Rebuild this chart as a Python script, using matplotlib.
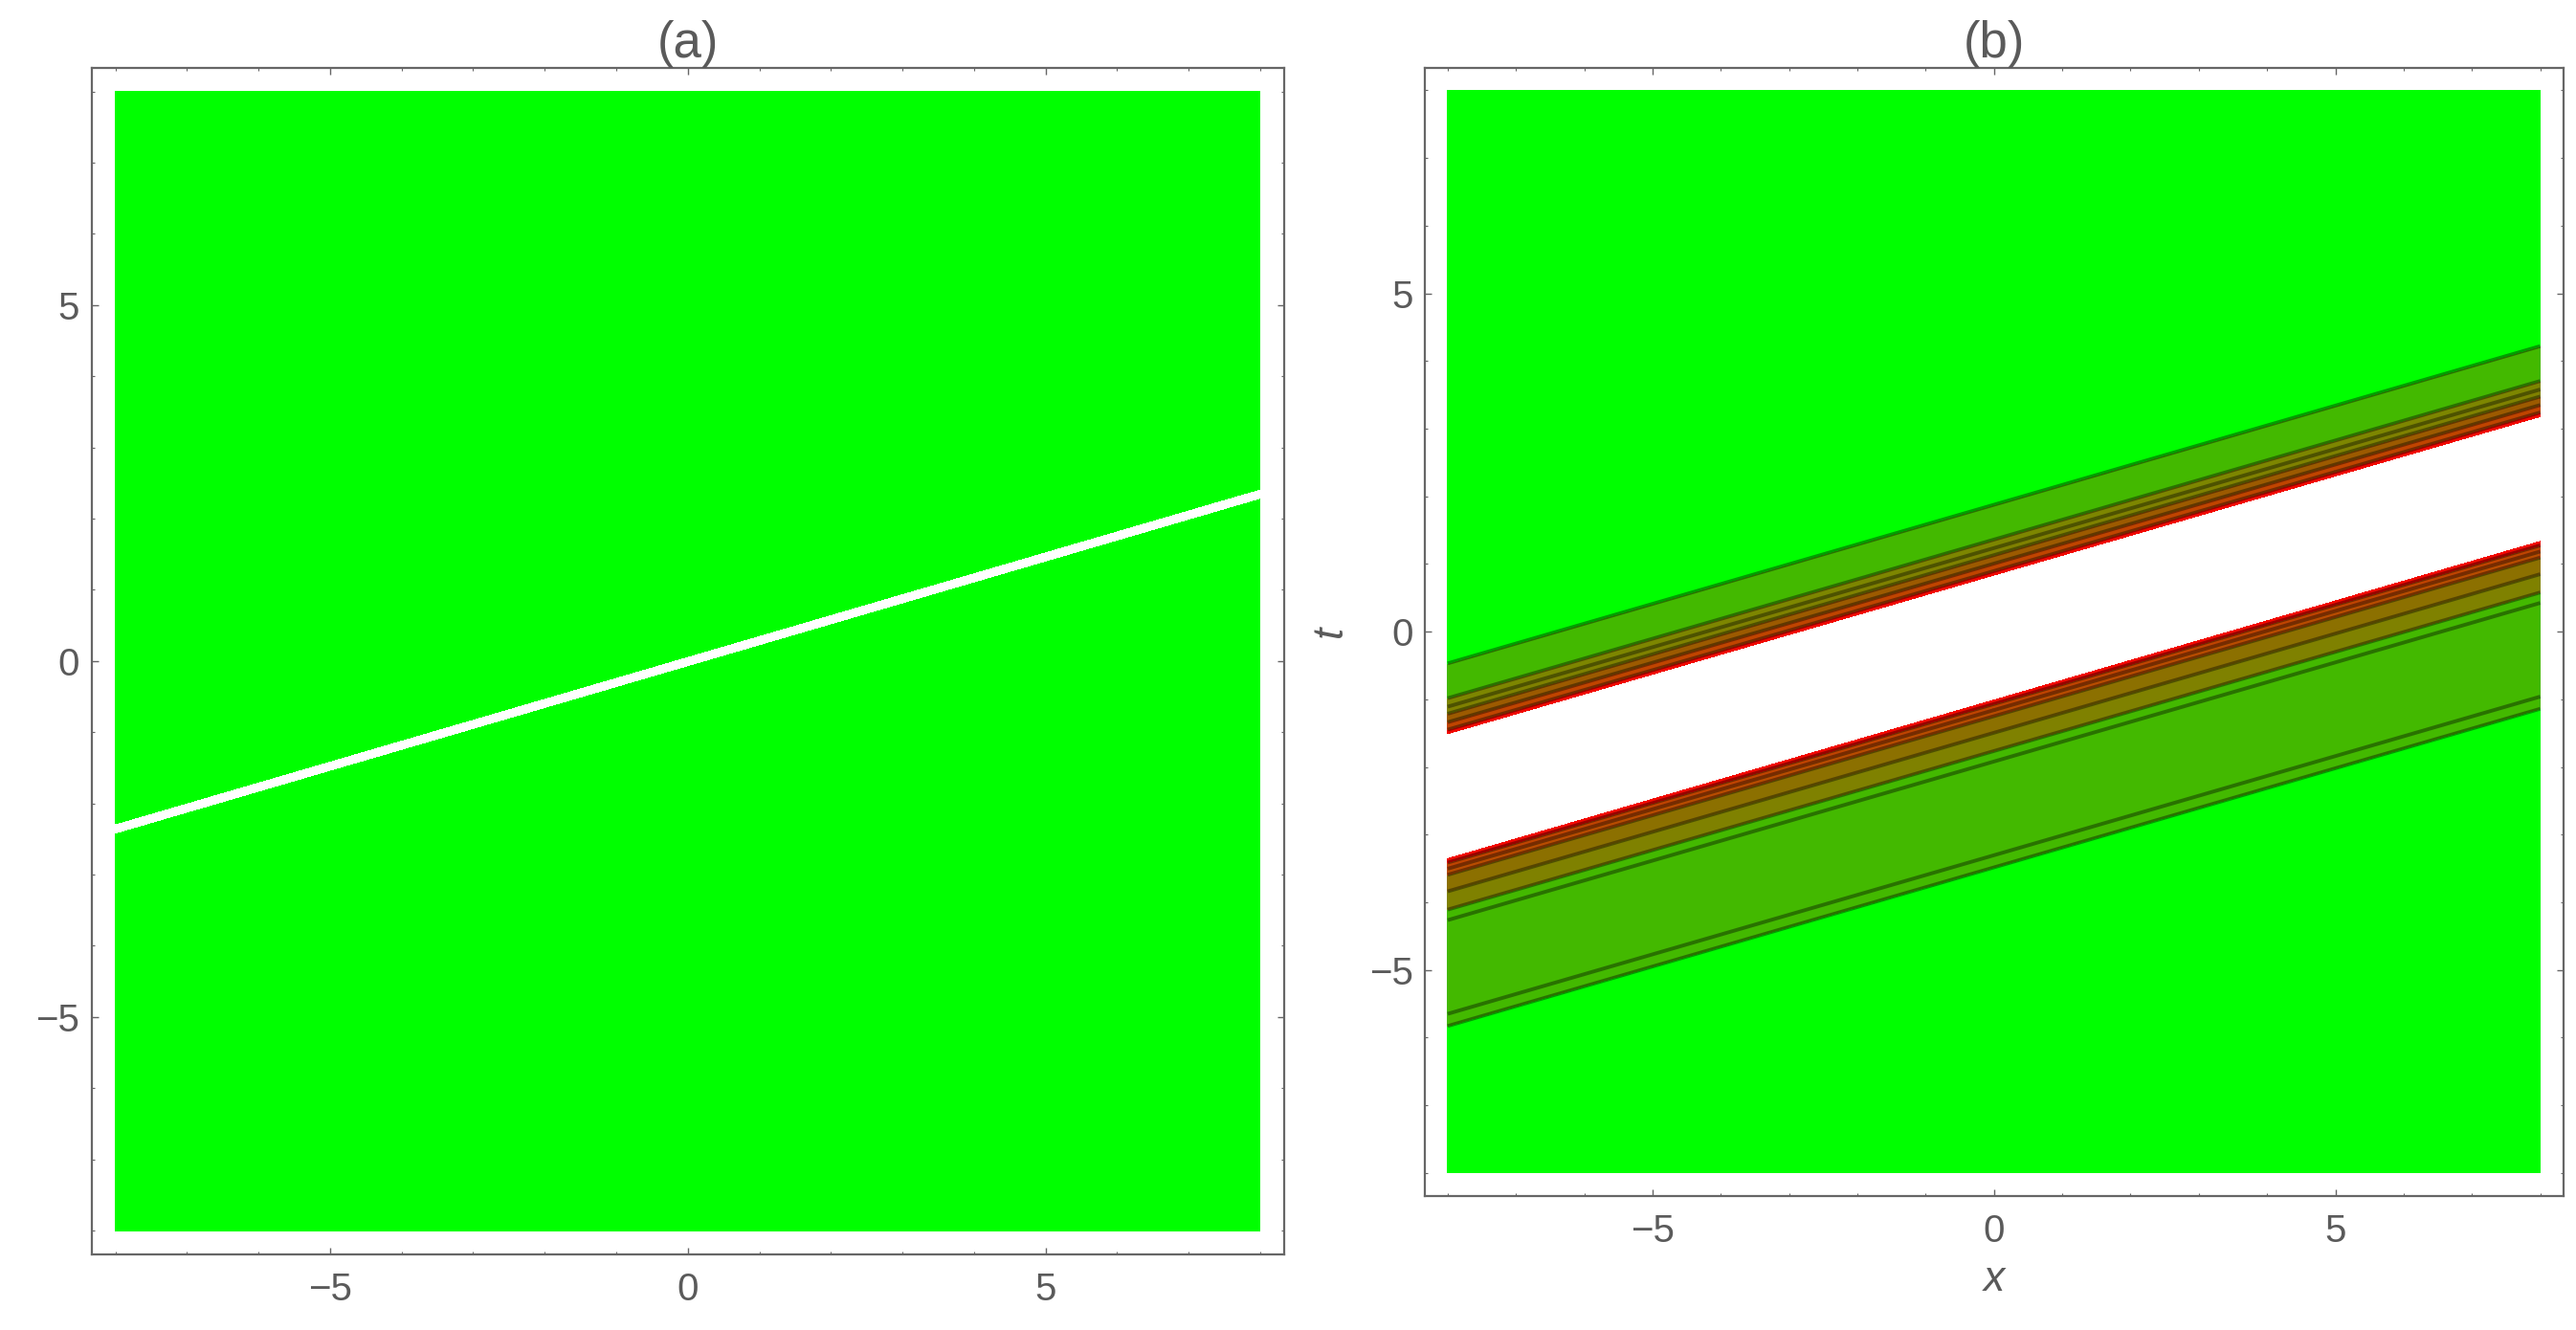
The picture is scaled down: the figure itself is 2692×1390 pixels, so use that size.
import numpy as np
import matplotlib
matplotlib.use("Agg")
import matplotlib.pyplot as plt
from matplotlib.ticker import FixedLocator

# ---------------- data ----------------
x_range = [-8.0, 8.0]
t_range = [-8.0, 8.0]
major_ticks = [-5, 0, 5]
minor_ticks = list(range(-8, 9))
titles = ["(a)", "(b)"]

# panel (a): thin white strip along t = slope_a * x + icpt_a
slope_a = 0.294
icpt_a = 0.0
strip_half_a = 0.065
green = "#00ff00"

# panel (b): contour levels of s = t - slope_b * x  (value of t at x = 0)
slope_b = 0.293
levels_b = [-100.0, -3.485, -3.305, -1.92, -1.765, -1.495, -1.25, -1.16, -1.07,
            -0.995, 0.835, 0.895, 1.005, 1.13, 1.235, 1.36, 1.875, 100.0]
fill_b = ["#00ff00", "#43b900", "#43b900", "#43b900", "#7f8100", "#8c7000",
          "#b84c00", "#c04400", "#f20800",
          "#ffffff",
          "#f20800", "#c04400", "#9c5a00", "#7f8100", "#7d8600", "#43b900", "#00ff00"]
line_levels_b = [-3.485, -3.305, -1.92, -1.765, -1.495, -1.25, -1.16, -1.07,
                 0.895, 1.005, 1.13, 1.235, 1.36, 1.875]

# ---------------- figure ----------------
W, H = 2692, 1390
fig = plt.figure(figsize=(W / 100, H / 100), dpi=100)
plt.rcParams["font.family"] = ["Liberation Sans", "DejaVu Sans"]
plt.rcParams["contour.negative_linestyle"] = "solid"
grey = "#666666"
txt = "#5a5a5a"

ax_a = fig.add_axes([95.5 / W, 1 - 1311 / H, (1342 - 95.5) / W, (1311 - 70.7) / H])
ax_b = fig.add_axes([1489 / W, 1 - 1249.5 / H, (2678.5 - 1489) / W, (1249.5 - 70.7) / H])

xs = np.linspace(x_range[0], x_range[1], 1201)
ts = np.linspace(t_range[0], t_range[1], 1201)
X, T = np.meshgrid(xs, ts)

# panel (a)
D = T - (slope_a * X + icpt_a)
ax_a.contourf(X, T, D, levels=[-100, -strip_half_a, strip_half_a, 100],
              colors=[green, "#ffffff", green])

# panel (b)
S = T - slope_b * X
ax_b.contourf(X, T, S, levels=levels_b, colors=fill_b)
ax_b.contour(X, T, S, levels=line_levels_b, colors="#000000", alpha=0.38,
             linewidths=2.8, linestyles="solid")

pad = 0.335
for ax, ttl in zip([ax_a, ax_b], titles):
    ax.set_xlim(x_range[0] - pad, x_range[1] + pad)
    ax.set_ylim(t_range[0] - pad, t_range[1] + pad)
    ax.xaxis.set_major_locator(FixedLocator(major_ticks))
    ax.yaxis.set_major_locator(FixedLocator(major_ticks))
    ax.xaxis.set_minor_locator(FixedLocator(minor_ticks))
    ax.yaxis.set_minor_locator(FixedLocator(minor_ticks))
    ax.tick_params(which="both", direction="in", top=True, right=True,
                   color=grey, labelcolor=txt, labelsize=29)
    ax.tick_params(which="major", length=5, width=1.0)
    ax.tick_params(which="minor", length=2.5, width=0.8)
    ax.tick_params(axis="x", which="major", pad=13)
    ax.tick_params(axis="y", which="major", pad=9)
    for sp in ax.spines.values():
        sp.set_color(grey)
        sp.set_linewidth(1.6)
    ax.set_title(ttl, fontsize=38, color=txt, pad=8)

ax_b.set_xlabel("x", fontsize=32, color=txt, style="italic", labelpad=8)
ax_b.set_ylabel("t", fontsize=32, color=txt, style="italic", labelpad=14)

fig.savefig("out.png", dpi=100)
